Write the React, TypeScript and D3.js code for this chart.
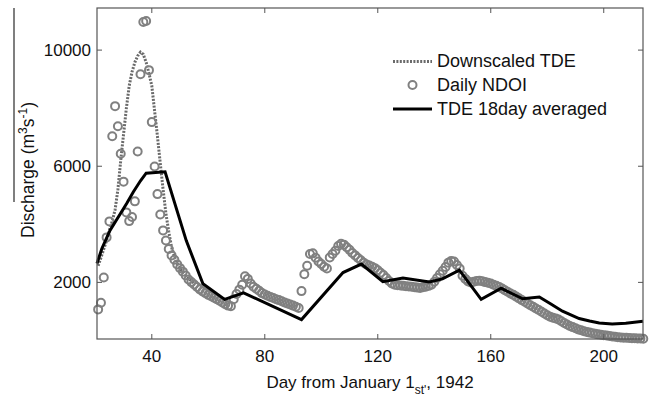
import React from "react";
import * as d3 from "d3";

// ---- Data ----
const ndoiStartDay = 21;
const ndoiValues: number[] = [
  1070, 1300, 2170, 3550, 4100, 7030, 8070, 7380, 6430, 5470, // 21-30
  4410, 4110, 4250, 4790, 6510, 9170, 10970, 11000, 9310, 7520, // 31-40
  5990, 5040, 4340, 3790, 3440, 3150, 2930, 2780, 2620, 2490, // 41-50
  2370, 2240, 2100, 2010, 1930, 1840, 1760, 1690, 1630, 1570, // 51-60
  1520, 1470, 1420, 1370, 1310, 1250, 1200, 1180, 1420, 1600, // 61-70
  1750, 1920, 2210, 2120, 1960, 1850, 1780, 1710, 1630, 1580, // 71-80
  1540, 1500, 1460, 1420, 1390, 1350, 1310, 1270, 1240, 1200, // 81-90
  1160, 1120, 1700, 2280, 2570, 2980, 3000, 2850, 2720, 2630, // 91-100
  2540, 2480, 2860, 2980, 3090, 3250, 3330, 3300, 3210, 3120, // 101-110
  3010, 2930, 2840, 2760, 2680, 2620, 2580, 2540, 2490, 2420, // 111-120
  2330, 2250, 2150, 2050, 1960, 1920, 1900, 1890, 1880, 1870, // 121-130
  1860, 1850, 1830, 1820, 1810, 1830, 1850, 1880, 1920, 2020, // 131-140
  2150, 2280, 2400, 2530, 2680, 2740, 2720, 2600, 2480, 2230, // 141-150
  2120, 2030, 2000, 2020, 2050, 2060, 2040, 2010, 1990, 1960, // 151-160
  1920, 1880, 1840, 1790, 1730, 1680, 1620, 1570, 1510, 1450, // 161-170
  1390, 1330, 1270, 1210, 1160, 1100, 1050, 990, 930, 870, // 171-180
  820, 780, 760, 720, 660, 600, 550, 500, 460, 420, // 181-190
  380, 350, 320, 290, 270, 250, 230, 210, 195, 180, // 191-200
  170, 155, 140, 125, 110, 100, 95, 90, 85, 80, // 201-210
  75, 70, 65, 60, // 211-214
];

const tdeStartDay = 21;
const tdeDownscaled: number[] = [
  2570, 2850, 3150, 3440, 3800, 4100, 4500, 5200, 6200, 7100, // 21-30
  8000, 8770, 9250, 9580, 9800, 9930, 9850, 9580, 9200, 8770, // 31-40
  7900, 7030, 6100, 5200, 4370, 3750, 3210, 2900, 2650, 2480, // 41-50
  2350, 2230, 2130, 2050, 1960, // 51-55
];

const avgDays: number[] = [
  20.6, 22.3, 25.2, 31.1, 33.5, 36, 38, 44.7, 52.2, 58.1, 65.8, 72.5, 93,
  107.7, 114.2, 121.8, 128.9, 138.3, 142.9, 148.9, 156.6, 163.7, 171.3,
  177.2, 181, 185.4, 191.3, 195, 198.4, 203, 207.8, 213.9,
];
const avgValues: number[] = [
  2650, 3160, 3790, 4715, 5120, 5500, 5760, 5810, 3440, 1950, 1414, 1640, 720,
  2338, 2630, 2025, 2154, 2015, 2119, 2422, 1414, 1796, 1435,
  1494, 1270, 1008, 754, 670, 601, 570, 590, 660,
];

const xTicks = [40, 80, 120, 160, 200];
const yTicks = [2000, 6000, 10000];

const legendLabels = ["Downscaled TDE", "Daily NDOI", "TDE 18day averaged"];

// ---- Layout ----
const W = 653;
const H = 397;
const left = 97;
const right = 643;
const top = 8;
const bottom = 339;
const font = "'Liberation Sans', Arial, sans-serif";

export default function App() {
  const x = d3.scaleLinear().domain([20.6, 213.9]).range([left, right]);
  const y = d3.scaleLinear().domain([50, 11450]).range([bottom, top]);

  const ndoi = ndoiValues.map((v, i) => ({ d: ndoiStartDay + i, v }));
  const tde = tdeDownscaled.map((v, i) => ({ d: tdeStartDay + i, v }));
  const avg = avgDays.map((d, i) => ({ d, v: avgValues[i] }));

  const line = d3
    .line<{ d: number; v: number }>()
    .x((p) => x(p.d))
    .y((p) => y(p.v));

  const axisColor = "#555";
  const tickLen = 5;
  const circleColor = "#808080";

  return (
    <svg
      width={W}
      height={H}
      style={{ position: "absolute", left: 0, top: 0, background: "#fff" }}
      fontFamily={font}
    >
      <rect x={0} y={0} width={W} height={H} fill="#fff" />

      {/* dotted downscaled TDE */}
      <path
        d={line(tde) || ""}
        fill="none"
        stroke="#6a6a6a"
        strokeWidth={3}
        strokeDasharray="2 1.4"
      />

      {/* daily NDOI circles */}
      {ndoi.map((p, i) => (
        <circle
          key={i}
          cx={x(p.d)}
          cy={y(p.v)}
          r={4}
          fill="none"
          stroke={circleColor}
          strokeWidth={2}
        />
      ))}

      {/* 18-day averaged */}
      <path
        d={line(avg) || ""}
        fill="none"
        stroke="#000"
        strokeWidth={3}
        strokeLinejoin="miter"
      />

      {/* axes box */}
      <rect
        x={left}
        y={top}
        width={right - left}
        height={bottom - top}
        fill="none"
        stroke={axisColor}
        strokeWidth={1.2}
      />

      {/* x ticks */}
      {xTicks.map((t) => (
        <g key={"x" + t}>
          <line x1={x(t)} x2={x(t)} y1={bottom} y2={bottom - tickLen} stroke={axisColor} />
          <line x1={x(t)} x2={x(t)} y1={top} y2={top + tickLen} stroke={axisColor} />
          <text x={x(t)} y={362} fontSize={17} textAnchor="middle" fill="#111">
            {t}
          </text>
        </g>
      ))}

      {/* y ticks */}
      {yTicks.map((t) => (
        <g key={"y" + t}>
          <line x1={left} x2={left + tickLen} y1={y(t)} y2={y(t)} stroke={axisColor} />
          <line x1={right} x2={right - tickLen} y1={y(t)} y2={y(t)} stroke={axisColor} />
          <text
            x={91}
            y={y(t) + 6}
            fontSize={17}
            textAnchor="end"
            fill="#111"
          >
            {t}
          </text>
        </g>
      ))}

      {/* x label */}
      <text x={(left + right) / 2} y={388} fontSize={17} textAnchor="middle" fill="#111">
        Day from January 1
        <tspan fontSize={12} dy={6}>st'</tspan>
        <tspan dy={-6}>, 1942</tspan>
      </text>

      {/* y label */}
      <line x1={14} x2={14} y1={8} y2={202} stroke={axisColor} strokeWidth={1.5} />
      <text
        transform={`translate(34, 170) rotate(-90)`}
        fontSize={17.5}
        textAnchor="middle"
        fill="#111"
      >
        Discharge (m
        <tspan fontSize={12} dy={-7}>3</tspan>
        <tspan dy={7}>s</tspan>
        <tspan fontSize={12} dy={-7}>-1</tspan>
        <tspan dy={7}>)</tspan>
      </text>

      {/* legend */}
      <g>
        <line
          x1={393}
          x2={432}
          y1={61.5}
          y2={61.5}
          stroke="#6a6a6a"
          strokeWidth={3}
          strokeDasharray="2 1.4"
        />
        <text x={437} y={67} fontSize={18} fill="#111">
          {legendLabels[0]}
        </text>
        <circle cx={412.5} cy={85} r={4} fill="none" stroke={circleColor} strokeWidth={2} />
        <text x={437} y={91} fontSize={18} fill="#111">
          {legendLabels[1]}
        </text>
        <line x1={393} x2={432} y1={109} y2={109} stroke="#000" strokeWidth={3} />
        <text x={437} y={115} fontSize={18} fill="#111">
          {legendLabels[2]}
        </text>
      </g>
    </svg>
  );
}
